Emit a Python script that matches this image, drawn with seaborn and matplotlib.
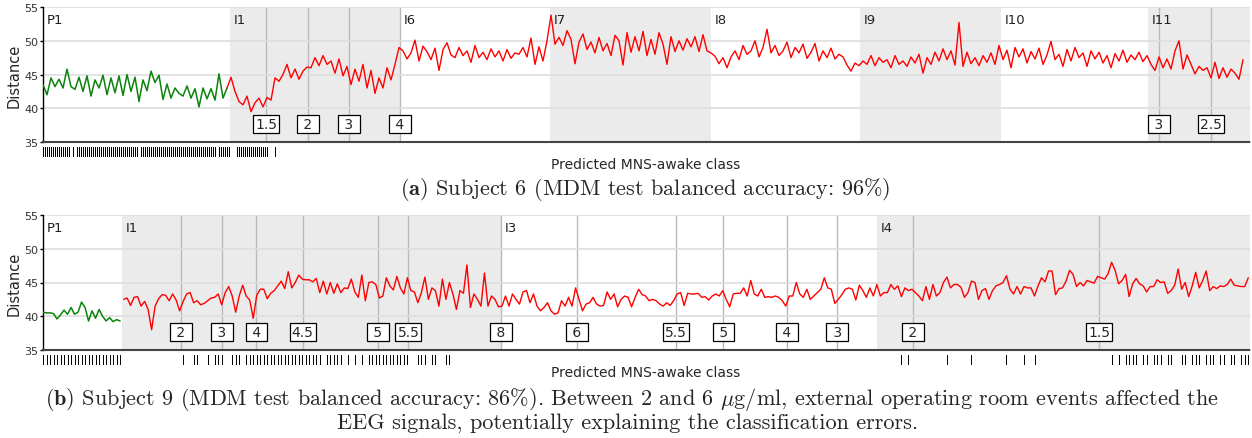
import numpy as np
import matplotlib
matplotlib.use("Agg")
import matplotlib.pyplot as plt
import seaborn as sns

# ---------------- Subject 6 (panel a) ----------------
# one distance value every 2 epochs
p1_a = [43.5, 42.0, 44.5, 43.2, 44.3, 43.0, 45.8, 43.2, 42.8, 44.6,
        42.5, 44.8, 41.8, 44.2, 43.0, 44.9, 42.0, 44.5, 42.3, 44.8,
        41.9, 45.0, 42.5, 44.6, 41.0, 44.2, 42.6, 45.5, 43.8, 44.9,
        41.3, 43.6, 41.5, 43.0, 42.2, 41.8, 43.3, 41.5, 42.9, 40.2,
        43.0, 41.4, 42.9, 41.2, 45.1, 41.5, 43.0]
infusion_a = [
    # I1
    44.6, 42.5, 41.0, 40.5, 41.8, 39.5, 40.8, 41.5, 40.2, 41.6, 41.2, 44.5, 44.0, 45.0,
    46.5, 44.5, 45.8, 44.3, 45.5, 46.1, 46.0, 47.5, 46.3, 47.8, 46.5, 47.0, 45.2, 47.3,
    44.8, 46.2, 43.5, 45.8, 44.0, 46.5, 43.0, 45.6, 42.2, 44.5, 43.0, 46.0, 44.2, 46.5,
    # I6
    49.0, 48.5, 47.3, 48.2, 50.1, 47.0, 49.2, 48.4, 47.2, 48.9, 45.6, 48.7, 49.7, 47.9,
    47.5, 49.0, 47.8, 48.5, 46.8, 49.3, 47.5, 48.3, 47.2, 48.8, 47.6, 48.5, 47.0, 48.7,
    47.4, 48.2, 48.0, 49.0, 47.6, 50.4, 46.5, 49.1, 47.0, 50.0,
    # I7
    53.8, 49.5, 50.5, 49.3, 51.5, 50.2, 46.6, 49.8, 51.0, 48.7, 49.8, 48.2, 50.5, 48.5,
    49.6, 47.8, 50.8, 50.0, 46.4, 51.2, 48.3, 50.6, 48.5, 51.4, 47.8, 50.2, 48.0, 51.2,
    49.5, 46.5, 50.6, 48.4, 50.0, 48.6, 50.3, 49.1, 50.6, 48.4, 50.9, 48.5,
    # I8
    48.2, 47.7, 46.6, 47.5, 46.0, 47.6, 48.5, 47.2, 49.3, 48.0, 48.5, 50.0, 47.6, 49.0,
    51.7, 48.2, 49.3, 47.8, 48.5, 49.8, 47.5, 49.0, 48.2, 49.5, 47.4, 48.3, 49.6, 47.0,
    48.5, 47.5, 48.9, 47.3, 48.0, 47.6, 46.4, 45.5, 46.7,
    # I9
    46.3, 47.0, 46.5, 47.8, 46.3, 47.5, 46.8, 47.2, 46.0, 47.8, 46.5, 47.0, 46.2, 47.6,
    46.7, 48.0, 45.2, 47.5, 46.5, 48.3, 47.0, 48.8, 47.2, 48.5, 46.4, 52.7, 46.2, 48.3,
    46.6, 47.5, 46.3, 47.8, 46.8, 48.2, 46.5,
    # I10
    49.3, 47.2, 48.6, 46.0, 49.0, 47.6, 48.8, 46.7, 48.4, 47.3, 48.9, 46.5, 47.9, 49.9,
    47.2, 48.0, 46.2, 48.7, 47.0, 49.0, 47.5, 48.2, 46.2, 48.5, 47.3, 48.3, 46.7, 47.8,
    46.0, 48.1, 47.0, 48.6, 46.8, 47.9, 47.2, 48.3, 46.9,
    # I11
    47.8, 46.5, 45.6, 47.6, 46.0, 47.3, 45.8, 48.5, 50.0, 45.8, 47.9, 46.5, 45.1, 46.2,
    45.6, 46.0, 44.5, 46.8, 44.4, 46.0, 44.6, 45.8, 45.2, 44.3, 47.2,
]
phases_a = ["P1", "I1", "I6", "I7", "I8", "I9", "I10", "I11"]
phase_starts_a = [0, 93.5, 178.5, 253.5, 334, 408.5, 479, 552.5]
end_a = 603.5
conc_x_a = [111.5, 132.5, 153, 178.5, 558, 584]
conc_a = ["1.5", "2", "3", "4", "3", "2.5"]
awake_runs_a = [(0, 14), (15, 16), (17, 48), (49, 87), (88, 94), (97, 113), (116, 117)]

# ---------------- Subject 9 (panel b) ----------------
# one distance value per epoch
p1_b = [40.6, 40.5, 40.5, 40.4, 39.6, 40.2, 40.9, 40.3, 41.3, 40.3, 40.6, 42.1,
        41.3, 39.3, 40.8, 39.7, 41.0, 40.0, 39.3, 39.8, 39.2, 39.5, 39.3]
infusion_b = [
    42.5, 42.7, 41.6, 42.8, 42.9, 41.5, 42.2, 41.0, 38.0, 41.5,
    42.6, 43.2, 43.1, 42.3, 43.3, 42.4, 40.8, 42.2, 43.3, 43.5,
    42.0, 42.3, 41.7, 41.9, 42.3, 42.7, 42.8, 43.3, 41.7, 43.5,
    44.4, 43.0, 40.6, 43.0, 44.6, 43.0, 42.4, 39.7, 43.1, 44.0,
    44.0, 42.6, 43.4, 43.8, 44.5, 45.2, 44.1, 46.6, 44.2, 45.0,
    46.1, 45.5, 45.4, 45.4, 45.1, 45.6, 43.5, 45.2, 43.3, 45.0,
    43.4, 44.8, 43.5, 44.2, 44.1, 45.5, 43.6, 42.8, 46.1, 42.3,
    45.0, 45.1, 44.7, 42.7, 43.0, 45.7, 44.5, 43.9, 45.9, 44.2,
    43.3, 45.7, 43.8, 43.6, 42.0,
    43.5, 45.8, 42.5, 44.2, 43.8, 41.5, 45.5, 42.5, 45.0, 43.3,
    41.0, 43.8, 43.4, 47.6, 41.3, 43.3, 42.5, 41.5, 46.4, 41.5,
    43.0, 42.5, 41.4, 41.5, 43.0, 41.5, 43.3, 42.5, 41.8, 43.6,
    43.8, 42.0, 43.3, 41.5, 40.8, 41.3, 42.0, 40.8, 40.3, 40.5,
    42.3, 41.5, 42.8, 41.5, 44.2, 42.5, 40.8, 41.8, 42.0, 42.8,
    41.8, 41.5, 41.6, 43.6, 42.5, 43.3, 41.4, 42.5, 43.0, 42.8,
    41.4, 42.8, 44.0, 43.2, 43.0, 42.3, 42.5, 42.3, 41.8, 41.5,
    42.0, 41.6, 42.3, 43.3, 43.5, 41.6, 43.4, 43.3, 43.3, 43.4,
    42.8, 42.9, 42.4, 43.0, 43.3, 43.0, 43.8, 42.5, 41.4, 43.3,
    43.4, 43.4, 44.2, 43.0, 45.3, 43.3, 43.0, 44.0, 42.8, 42.9,
    42.8, 43.0, 42.8, 42.3, 41.5, 43.0, 43.0, 45.0, 43.3, 42.8,
    44.0, 42.5, 43.0, 43.5, 44.0,
    45.7, 44.2, 44.0, 41.9, 42.5, 43.2, 44.0, 44.2, 44.0, 42.4,
    44.6, 43.8, 42.8, 44.2, 43.0, 44.7, 43.0, 43.5, 43.5, 44.7,
    44.0, 44.5, 42.9, 44.2, 43.8, 44.0, 43.5, 43.0, 42.3, 44.4,
    42.5, 44.7, 43.0, 43.5, 45.0, 45.8, 44.2, 44.7, 44.7, 44.3,
    42.8, 43.5, 45.2, 45.0, 42.5, 43.8, 44.1, 42.5, 43.8, 44.5,
    44.7, 45.0, 46.0, 44.0, 43.3, 44.4, 43.3, 44.4, 44.2, 44.2,
    43.0, 44.5, 45.7, 45.1, 46.7, 46.7, 43.2, 44.1, 44.2, 45.2,
    46.8, 46.2, 44.4, 45.0, 44.5, 45.3, 45.1, 44.9, 45.9, 45.7,
    45.5, 46.3, 48.0, 46.8, 44.8, 45.3, 46.2, 42.9, 44.8, 45.6,
    44.8, 44.5, 43.6, 44.4, 44.4, 45.4, 45.0, 45.1, 43.4, 43.8,
    44.6, 47.0, 44.0, 45.0, 42.9, 44.5, 46.5, 44.2, 45.3, 46.7,
    43.8, 44.4, 44.1, 44.5, 44.4, 44.7, 45.5, 44.6, 44.5, 44.4,
    44.4, 45.7,
]
phases_b = ["P1", "I1", "I3", "I4"]
phase_starts_b = [0, 22.5, 130.7, 238]
end_b = 344.5
conc_x_b = [39.4, 51, 60.9, 74.1, 95.6, 104.3, 130.7, 152.5, 180.7, 194.2, 212.3, 226.7, 248.3, 301.5]
conc_b = ["2", "3", "4", "4.5", "5", "5.5", "8", "6", "5.5", "5", "4", "3", "2", "1.5"]
awake_runs_b = [(0, 23), (40, 41), (43, 45), (47, 48), (49, 52), (54, 57), (58, 80), (81, 86),
                (87, 88), (89, 90), (91, 92), (93, 105), (107, 110), (111, 113), (115, 117),
                (245, 246), (247, 248), (258, 259), (265, 266), (275, 276), (280, 281),
                (283, 284), (305, 306), (307, 308), (309, 313), (314, 316), (317, 320),
                (321, 323), (325, 327), (328, 331), (332, 335), (336, 338), (339, 341), (342, 345)]

sns.set_style("white")
plt.rcParams['font.family'] = ['DejaVu Sans']
plt.rcParams['mathtext.fontset'] = 'cm'

fig = plt.figure(figsize=(12.52, 4.39), dpi=100)
W, H = 1252, 439


def rect(left, top, right, bottom):
    return [left / W, 1 - bottom / H, (right - left) / W, (bottom - top) / H]


def draw_panel(top, p1, infusion, step, joined, phases, starts, end, conc_x, conc, runs):
    ax = fig.add_axes(rect(43, top, 1250, top + 135))
    ax.set_xlim(0, end)
    ax.set_ylim(35, 55)

    # phase shading and names
    bounds = starts + [end]
    for i, name in enumerate(phases):
        if i % 2 == 1:
            ax.axvspan(bounds[i], bounds[i + 1], color="#ebebeb", lw=0, zorder=0.1)
        ax.annotate(name, (bounds[i], 53.1), xytext=(3, 0), textcoords="offset points",
                    ha="left", va="center", fontsize=9.5, color="#222222")

    ax.grid(axis="y", color="#dedede", lw=1.2, zorder=0.3)
    ax.set_axisbelow(True)

    # concentration changes
    for xc, lab in zip(conc_x, conc):
        ax.axvline(xc, color="#b9b9b9", lw=1.0, zorder=0.5)
        ax.text(xc, 37.7, f"{lab:^3}", ha="center", va="center", fontsize=10, zorder=4,
                bbox=dict(boxstyle="square,pad=0.15", fc="white", ec="black", lw=0.9))

    n1 = len(p1)
    x1 = np.arange(n1) * step
    sns.lineplot(x=x1, y=p1, color="#0a840a", linewidth=1.1, ax=ax, zorder=3)
    if joined:
        x2 = np.arange(n1 - 1, n1 + len(infusion)) * step
        y2 = [p1[-1]] + infusion
    else:
        x2 = np.arange(n1, n1 + len(infusion)) * step
        y2 = infusion
    sns.lineplot(x=x2, y=y2, color="#ff0000", linewidth=1.0, ax=ax, zorder=3)

    ax.set_xticks([])
    ax.set_xlabel("")
    ax.set_yticks([35, 40, 45, 50, 55])
    ax.tick_params(axis="y", labelsize=8, length=2.5, width=1, color="black",
                   labelcolor="#333333", pad=1, left=True)
    ax.set_ylabel("Distance", fontsize=10.5, labelpad=2)
    for s in ["top", "right"]:
        ax.spines[s].set_visible(False)
    ax.spines["left"].set_color("black")
    ax.spines["left"].set_linewidth(1.0)
    ax.spines["bottom"].set_color("#444444")
    ax.spines["bottom"].set_linewidth(1.5)
    ax.spines["bottom"].set_linestyle((0, (1, 1)))

    # predicted awake epochs
    rug = fig.add_axes(rect(43, top + 140, 1250, top + 149.5))
    awake = np.concatenate([np.arange(a, b) for a, b in runs])
    sns.rugplot(x=awake, height=1, color="black", linewidth=0.72, antialiased=False,
                ax=rug, expand_margins=False)
    rug.set_xlim(0, end)
    rug.set_ylim(0, 1)
    rug.axis("off")

    fig.text(646 / W, 1 - (top + 157) / H, "Predicted MNS-awake class",
             ha="center", va="center", fontsize=10)
    return ax


draw_panel(8, p1_a, infusion_a, 2, True, phases_a, phase_starts_a, end_a,
           conc_x_a, conc_a, awake_runs_a)
draw_panel(216, p1_b, infusion_b, 1, False, phases_b, phase_starts_b, end_b,
           conc_x_b, conc_b, awake_runs_b)

cap_font = dict(family=["cmr10", "DejaVu Serif"], fontsize=16, ha="center", va="center")
fig.text(645 / W, 1 - 190 / H, r"$\mathbf{(a)}$ Subject 6 (MDM test balanced accuracy: 96%)", **cap_font)
fig.text(632 / W, 1 - 400 / H,
         r"$\mathbf{(b)}$ Subject 9 (MDM test balanced accuracy: 86%). Between 2 and 6 "
         r"$\mu$g/ml, external operating room events affected the", **cap_font)
fig.text(628 / W, 1 - 423 / H, "EEG signals, potentially explaining the classification errors.",
         **cap_font)

fig.savefig("out.png", dpi=100)
